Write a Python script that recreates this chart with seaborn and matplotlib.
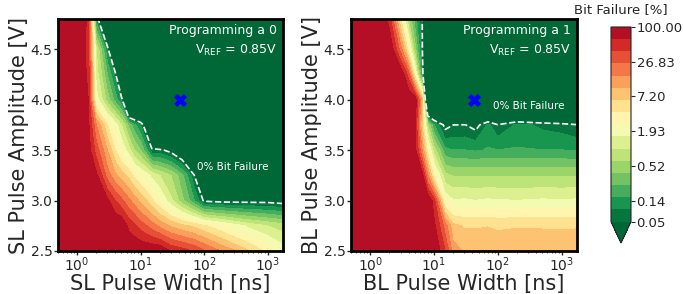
import numpy as np
import seaborn as sns
import matplotlib.pyplot as plt

# grid of the measurement: pulse width [ns] x pulse amplitude [V]
pulse_width = [0.5, 1, 1.5, 2, 3, 4, 5, 6.5, 8, 10, 15, 20, 30, 45, 70, 100, 200, 500, 1000, 1750]
amplitude = [2.5, 2.75, 3.0, 3.25, 3.5, 3.75, 4.0, 4.25, 4.5, 4.8]

# bit failure [%], one row per amplitude (bottom to top), SL pulse / programming a 0
fail_sl = [
    [100, 100, 100, 100, 100, 100, 100, 100, 100, 100, 100, 100, 60, 50, 38, 27, 14, 6.6, 3.3, 2.0],
    [100, 100, 100, 100, 100, 100, 100, 56, 45, 32, 20, 14, 9.3, 7.1, 5.6, 4.2, 2.6, 1.4, 1.0, 0.79],
    [100, 100, 100, 100, 71, 40, 28, 18, 12.6, 8.9, 4.5, 2.5, 1.12, 0.45, 0.16, 0.056, 0.05, 0.05, 0.05, 0.045],
    [100, 100, 100, 71, 20, 11, 7.9, 5.6, 3.5, 2.5, 1.4, 1.0, 0.63, 0.28, 0.065, 0, 0, 0, 0, 0],
    [100, 100, 79, 32, 10, 4.0, 2.2, 1.26, 0.63, 0.4, 0.071, 0.071, 0.05, 0.025, 0, 0, 0, 0, 0, 0],
    [100, 100, 71, 16, 4.0, 2.0, 1.0, 0.35, 0.18, 0.1, 0.01, 0, 0, 0, 0, 0, 0, 0, 0, 0],
    [100, 100, 63, 2.0, 0.5, 0.2, 0.1, 0, 0, 0, 0, 0, 0, 0, 0, 0, 0, 0, 0, 0],
    [100, 100, 56, 1.26, 0.25, 0.089, 0, 0, 0, 0, 0, 0, 0, 0, 0, 0, 0, 0, 0, 0],
    [100, 100, 50, 1.0, 0.1, 0, 0, 0, 0, 0, 0, 0, 0, 0, 0, 0, 0, 0, 0, 0],
    [100, 100, 56, 0.126, 0, 0, 0, 0, 0, 0, 0, 0, 0, 0, 0, 0, 0, 0, 0, 0],
]

# BL pulse / programming a 1
fail_bl = [
    [100, 100, 100, 100, 100, 100, 100, 100, 100, 100, 40, 12.6, 9.5, 8.9, 9.1, 8.9, 8.7, 8.9, 8.9, 9.0],
    [100, 100, 100, 100, 100, 100, 100, 100, 100, 71, 20, 7.1, 6.0, 6.0, 6.2, 5.8, 6.1, 6.0, 5.9, 6.0],
    [100, 100, 100, 100, 100, 100, 100, 100, 100, 50, 2.2, 1.66, 1.7, 1.6, 1.7, 1.65, 1.6, 1.7, 1.65, 1.7],
    [100, 100, 100, 100, 100, 100, 100, 79, 16, 3.2, 0.71, 0.6, 0.6, 0.6, 0.6, 0.6, 0.6, 0.6, 0.6, 0.6],
    [100, 100, 100, 100, 100, 100, 79, 16, 3.2, 0.79, 0.18, 0.16, 0.16, 0.15, 0.166, 0.16, 0.166, 0.16, 0.16, 0.15],
    [100, 100, 100, 100, 100, 100, 71, 6.3, 0.63, 0.16, 0.05, 0.063, 0.065, 0.05, 0.112, 0.066, 0.112, 0.089, 0.079, 0.066],
    [100, 100, 100, 100, 100, 100, 100, 10, 0, 0, 0, 0, 0, 0, 0, 0, 0, 0, 0, 0],
    [100, 100, 100, 100, 100, 32, 3.2, 0.126, 0, 0, 0, 0, 0, 0, 0, 0, 0, 0, 0, 0],
    [100, 100, 100, 100, 20, 3.2, 0.5, 0.079, 0, 0, 0, 0, 0, 0, 0, 0, 0, 0, 0, 0],
    [100, 100, 100, 50, 4.0, 0.63, 0.2, 0.071, 0, 0, 0, 0, 0, 0, 0, 0, 0, 0, 0, 0],
]

cbar_ticks = [0.063, 0.139, 0.518, 1.931, 7.197, 26.83, 100.0]
cbar_labels = ['0.05', '0.14', '0.52', '1.93', '7.20', '26.83', '100.00']
marker_width = 42
marker_amp = 4.0

panels = [
    ('SL', fail_sl, 'Programming a 0', (280, 3.33)),
    ('BL', fail_bl, 'Programming a 1', (310, 3.94)),
]

sns.set_style('ticks')
fig = plt.figure(figsize=(6.84, 2.94), dpi=100)
ax1 = fig.add_axes([58 / 684, 1 - 251 / 294, 225 / 684, 232 / 294])
ax2 = fig.add_axes([351 / 684, 1 - 251 / 294, 226 / 684, 232 / 294])
cax = fig.add_axes([611 / 684, 1 - 243 / 294, 20 / 684, 216 / 294])

levels = np.linspace(-1.2, 2, 17)
X, Y = np.meshgrid(pulse_width, amplitude)

for ax, (name, fail, title, note_xy) in zip([ax1, ax2], panels):
    logf = np.log10(np.clip(np.array(fail, dtype=float), 1e-3, None))
    cs = ax.contourf(X, Y, logf, levels=levels, cmap='RdYlGn_r', extend='min')
    ax.contour(X, Y, logf, levels=[levels[0]], colors='white',
               linestyles='--', linewidths=1.2)
    sns.scatterplot(x=[marker_width], y=[marker_amp], marker='X', s=90,
                    color='blue', linewidth=0, ax=ax, zorder=5)
    ax.set_xscale('log')
    ax.set_xlim(pulse_width[0], pulse_width[-1])
    ax.set_ylim(amplitude[0], amplitude[-1])
    ax.set_yticks([2.5, 3.0, 3.5, 4.0, 4.5])
    ax.set_xlabel(f'{name} Pulse Width [ns]', fontsize=15, labelpad=0)
    ax.set_ylabel(f'{name} Pulse Amplitude [V]', fontsize=15, labelpad=1)
    ax.tick_params(labelsize=10, length=3, width=1)
    ax.tick_params(axis='x', pad=0.5)
    ax.tick_params(axis='y', pad=1)
    ax.tick_params(which='minor', length=1.5, width=0.6)
    for s in ax.spines.values():
        s.set_linewidth(2)
        s.set_color('black')
    ax.text(0.975, 0.95, title, transform=ax.transAxes, ha='right',
            va='center', color='white', fontsize=9)
    ax.text(0.975, 0.865, r'V$_{\mathrm{REF}}$ = 0.85V', transform=ax.transAxes,
            ha='right', va='center', color='white', fontsize=9)
    ax.text(note_xy[0], note_xy[1], '0% Bit Failure', ha='center', va='center',
            color='white', fontsize=7.5)

cbar = fig.colorbar(cs, cax=cax, extendfrac=0.11, ticks=np.log10(cbar_ticks))
cbar.ax.set_yticklabels(cbar_labels)
cbar.ax.tick_params(labelsize=9.5, length=3, width=0.8, pad=1)
cbar.outline.set_linewidth(0.8)
cax.set_title('Bit Failure [%]', fontsize=9.5, pad=10)

fig.savefig('out.png', dpi=100)
